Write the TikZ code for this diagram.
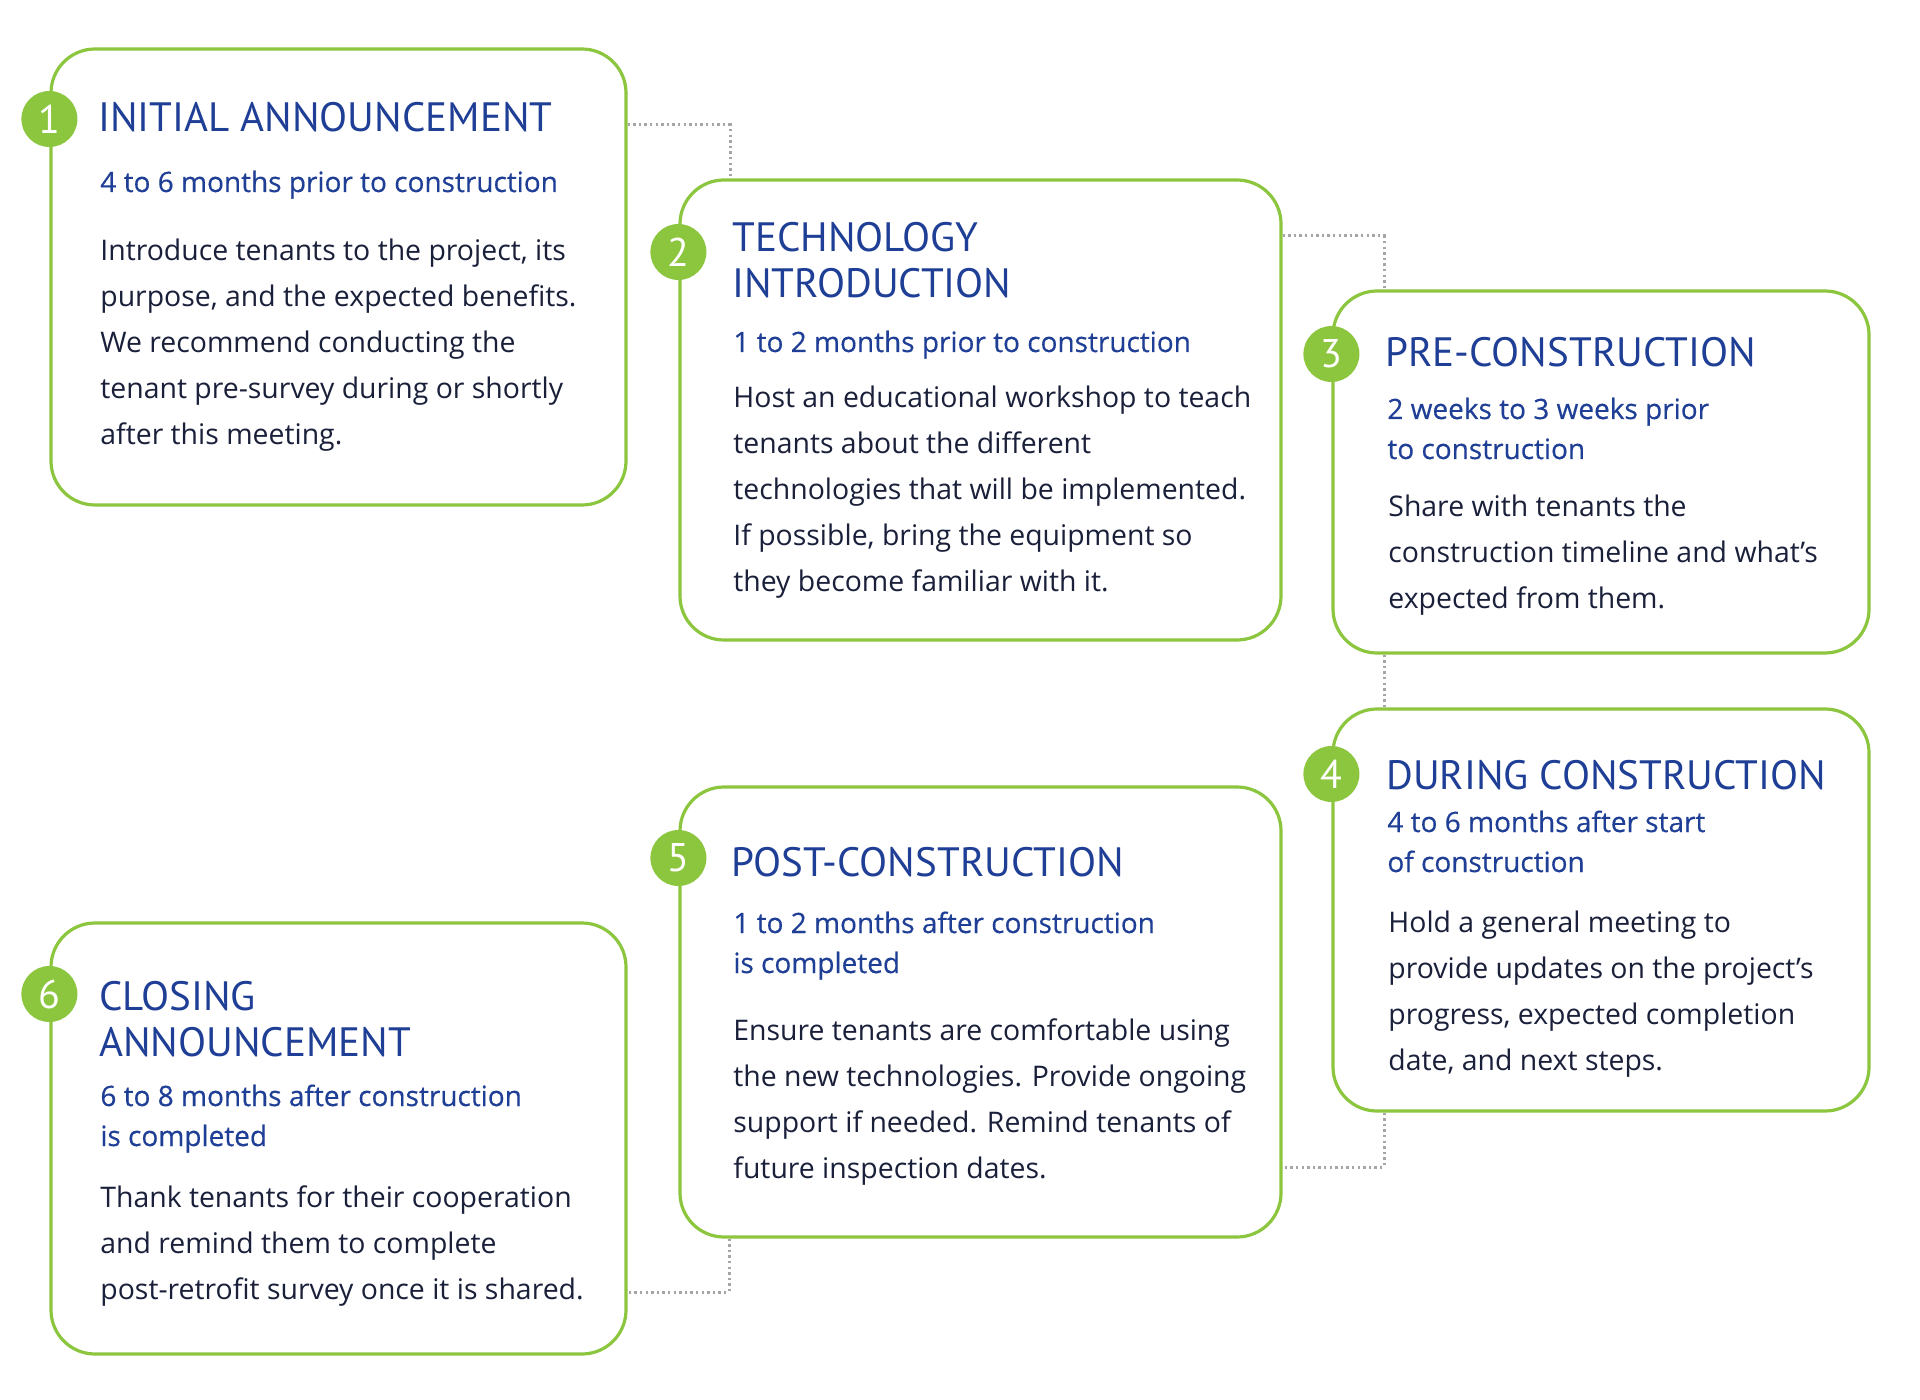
\documentclass[tikz,border=0pt]{standalone}
\usepackage{fontspec}
\setmainfont{Open Sans}
\newfontfamily\headfont{PT Sans}
\newfontfamily\whenfont[FakeBold=0.4]{Open Sans}
\usetikzlibrary{positioning,fit}

\definecolor{stepgreen}{HTML}{8CC63F}
\definecolor{stepblue}{HTML}{1F3F96}
\definecolor{bodyink}{HTML}{1A1F3A}
\definecolor{dotgray}{HTML}{A6A6A6}

\begin{document}
\begin{tikzpicture}[x=0.5pt,y=-0.5pt,
    stepbox/.style={draw=stepgreen,line width=1.6pt,rounded corners=22pt,inner sep=0pt},
    num/.style={circle,fill=stepgreen,text=white,minimum size=28pt,inner sep=0pt,font=\headfont\fontsize{20}{20}\selectfont},
    title/.style={anchor=base west,inner sep=0pt,text=stepblue,align=left,font=\headfont\fontsize{20.5}{23}\selectfont},
    when/.style={anchor=base west,inner sep=0pt,text=stepblue,align=left,font=\whenfont\fontsize{14}{20}\selectfont},
    body/.style={anchor=base west,inner sep=0pt,text=bodyink,align=left,font=\fontsize{14.2}{23}\selectfont},
    link/.style={draw=dotgray,line width=1.5pt,dash pattern=on 1.2pt off 1.6pt}
  ]
  \useasboundingbox[fill=white] (0,0) rectangle (1920,1400);

  % boxes
  \node[stepbox,fit={(51,49) (626,505)}] (b1) {};
  \node[stepbox,fit={(680,180) (1281,640)}] (b2) {};
  \node[stepbox,fit={(1333,291) (1869,653)}] (b3) {};
  \node[stepbox,fit={(1333,709) (1869,1111)}] (b4) {};
  \node[stepbox,fit={(680,787) (1281,1237)}] (b5) {};
  \node[stepbox,fit={(51,923) (626,1354)}] (b6) {};

  % dotted links
  \draw[link] (b1.east |- 0,125) -| (b2.north -| 730,0);
  \draw[link] (b2.east |- 0,236) -| (b3.north -| 1384,0);
  \draw[link] (b3.south -| 1384,0) -- (b4.north -| 1384,0);
  \draw[link] (b4.south -| 1384,0) |- (b5.east |- 0,1167);
  \draw[link] (b5.south -| 729,0) |- (b6.east |- 0,1292);

  % numbers
  \node[num] (n1) at (b1.west |- 0,119) {1};
  \node[num] (n2) at (b2.west |- 0,252) {2};
  \node[num] (n3) at (b3.west |- 0,354) {3};
  \node[num] (n4) at (b4.west |- 0,774) {4};
  \node[num] (n5) at (b5.west |- 0,858) {5};
  \node[num] (n6) at (b6.west |- 0,994) {6};

  % step 1 (base = last line)
  \node[title] (t1) at (98,132) {INITIAL ANNOUNCEMENT};
  \node[when] (w1) at (100,192) {4 to 6 months prior to construction};
  \node[body] (d1) at (100,445) {Introduce tenants to the project, its\\purpose, and the expected benefits.\\We recommend conducting the\\tenant pre-survey during or shortly\\after this meeting.};

  % step 2
  \node[title] (t2) at (732,298) {TECHNOLOGY\\INTRODUCTION};
  \node[when] (w2) at (733,352) {1 to 2 months prior to construction};
  \node[body] (d2) at (733,591) {Host an educational workshop to teach\\tenants about the different\\technologies that will be implemented.\\If possible, bring the equipment so\\they become familiar with it.};

  % step 3
  \node[title] (t3) at (1385,367) {PRE-CONSTRUCTION};
  \node[when] (w3) at (1387,459) {2 weeks to 3 weeks prior\\to construction};
  \node[body] (d3) at (1388,609) {Share with tenants the\\construction timeline and what’s\\expected from them.};

  % step 4
  \node[title] (t4) at (1386,789) {DURING CONSTRUCTION};
  \node[when] (w4) at (1387,872) {4 to 6 months after start\\of construction};
  \node[body] (d4) at (1388,1070) {Hold a general meeting to\\provide updates on the project’s\\progress, expected completion\\date, and next steps.};

  % step 5
  \node[title] (t5) at (731,876) {POST-CONSTRUCTION};
  \node[when] (w5) at (733,973) {1 to 2 months after construction\\is completed};
  \node[body] (d5) at (733,1178) {Ensure tenants are comfortable using\\the new technologies. Provide ongoing\\support if needed. Remind tenants of\\future inspection dates.};

  % step 6
  \node[title] (t6) at (99,1056) {CLOSING\\ANNOUNCEMENT};
  \node[when] (w6) at (100,1146) {6 to 8 months after construction\\is completed};
  \node[body] (d6) at (100,1299) {Thank tenants for their cooperation\\and remind them to complete\\post-retrofit survey once it is shared.};
\end{tikzpicture}
\end{document}
